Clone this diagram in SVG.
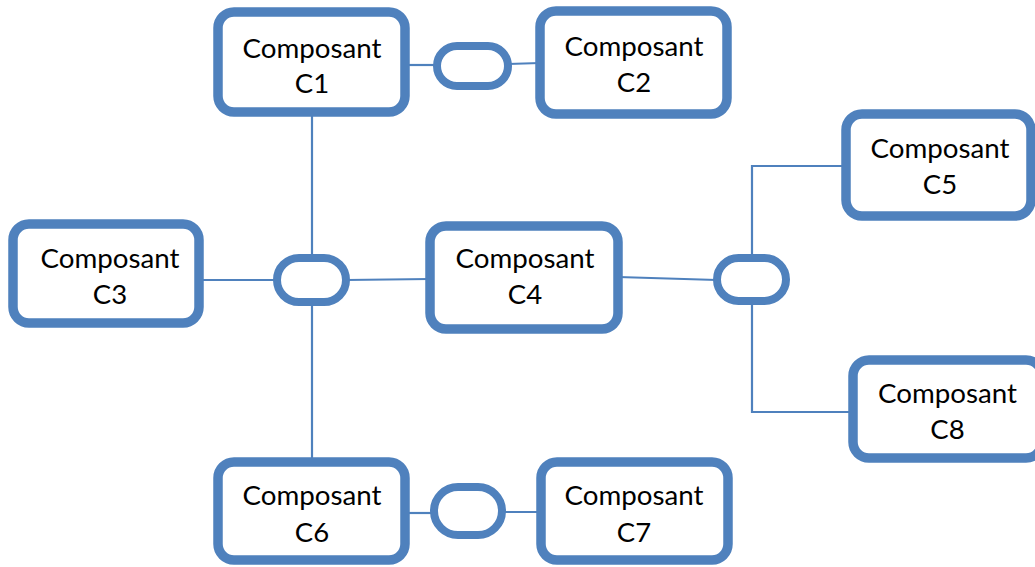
<svg xmlns="http://www.w3.org/2000/svg" width="1035" height="567" viewBox="0 0 1035 567">
<style>
.box{fill:#fff;stroke:#4F81BD;stroke-width:9.5}
.pill{fill:#fff;stroke:#4F81BD;stroke-width:8}
.ln{fill:none;stroke:#4F81BD;stroke-width:2.2}
text{font-family:Lato,"Open Sans","Liberation Sans",sans-serif;font-size:27.5px;fill:#000;text-anchor:middle}
</style>
<rect width="1035" height="567" fill="#fff"/>
<g id="connectors">
<line class="ln" x1="405" y1="65" x2="437" y2="65"/>
<line class="ln" x1="508" y1="64" x2="540" y2="63"/>
<line class="ln" x1="312" y1="112" x2="312" y2="258"/>
<line class="ln" x1="312" y1="302" x2="312" y2="462"/>
<line class="ln" x1="199" y1="280" x2="277" y2="280"/>
<line class="ln" x1="346" y1="280" x2="430" y2="279"/>
<line class="ln" x1="618" y1="277" x2="717" y2="280"/>
<polyline class="ln" points="752,258 752,166 846,166"/>
<polyline class="ln" points="752,301 752,412 853,412"/>
<line class="ln" x1="405" y1="513" x2="434" y2="513"/>
<line class="ln" x1="502" y1="512" x2="541" y2="512"/>
</g>
<g id="pills">
<rect id="p12" class="pill" x="437" y="46" width="71" height="40" rx="20"/>
<rect id="pc" class="pill" x="277" y="258" width="69" height="44" rx="22"/>
<rect id="pr" class="pill" x="717" y="258" width="69" height="43" rx="21.5"/>
<rect id="p67" class="pill" x="434" y="487" width="68" height="48" rx="24"/>
</g>
<g id="c1"><rect class="box" x="218" y="12" width="187" height="100" rx="16"/><text x="312" y="58" textLength="139" lengthAdjust="spacingAndGlyphs">Composant</text><text x="312" y="93">C1</text></g>
<g id="c2"><rect class="box" x="540" y="11" width="187" height="103" rx="16"/><text x="634" y="56" textLength="139" lengthAdjust="spacingAndGlyphs">Composant</text><text x="634" y="92">C2</text></g>
<g id="c3"><rect class="box" x="13" y="224" width="186" height="99" rx="16"/><text x="110" y="268" textLength="139" lengthAdjust="spacingAndGlyphs">Composant</text><text x="110" y="304">C3</text></g>
<g id="c4"><rect class="box" x="430" y="226" width="188" height="103" rx="16"/><text x="525" y="268" textLength="139" lengthAdjust="spacingAndGlyphs">Composant</text><text x="525" y="304">C4</text></g>
<g id="c5"><rect class="box" x="846" y="114" width="185" height="102" rx="16"/><text x="940" y="158" textLength="139" lengthAdjust="spacingAndGlyphs">Composant</text><text x="940" y="194">C5</text></g>
<g id="c6"><rect class="box" x="218" y="462" width="187" height="98" rx="16"/><text x="312" y="505" textLength="139" lengthAdjust="spacingAndGlyphs">Composant</text><text x="312" y="542">C6</text></g>
<g id="c7"><rect class="box" x="541" y="462" width="187" height="98" rx="16"/><text x="634" y="505" textLength="139" lengthAdjust="spacingAndGlyphs">Composant</text><text x="634" y="542">C7</text></g>
<g id="c8"><rect class="box" x="853" y="360" width="189" height="98" rx="16"/><text x="947.5" y="403" textLength="139" lengthAdjust="spacingAndGlyphs">Composant</text><text x="947.5" y="439">C8</text></g>
</svg>
